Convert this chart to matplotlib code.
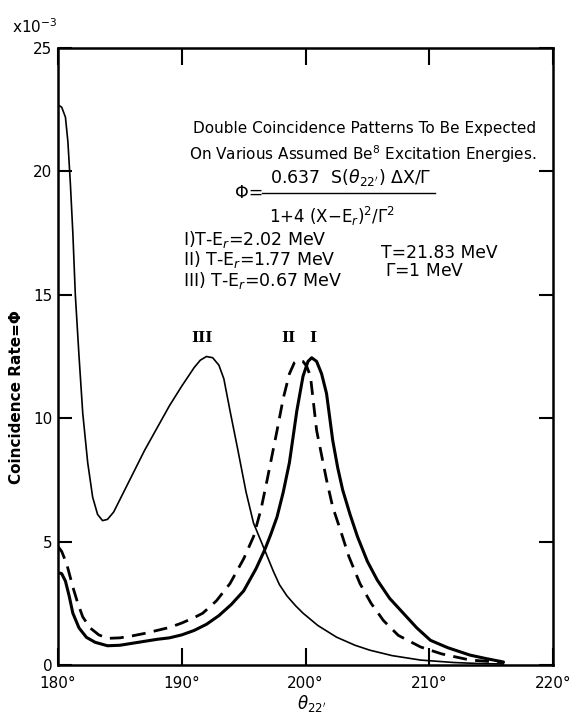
import numpy as np
import matplotlib
matplotlib.use("Agg")
import matplotlib.pyplot as plt
from matplotlib.lines import Line2D

# ---- data ----
x_I = [180, 180.3, 180.6, 180.9, 181.2, 181.7, 182.3, 183, 184, 185, 186, 187, 188, 189, 190, 191, 192,
       193, 194, 195, 196, 196.7, 197.2, 197.7, 198.2, 198.7, 199.3, 199.8, 200.2, 200.5, 200.9, 201.3,
       201.7, 202.2, 202.6, 203.0, 203.6, 204.2, 205, 205.8, 206.8, 207.9, 209, 210.1, 211.5, 213.3, 214.5, 216]
y_I = [3.75, 3.7, 3.4, 2.8, 2.1, 1.5, 1.12, 0.92, 0.78, 0.8, 0.88, 0.96, 1.04, 1.1, 1.22, 1.4, 1.65,
       2.0, 2.45, 3.0, 3.9, 4.66, 5.3, 6.0, 7.0, 8.2, 10.3, 11.7, 12.3, 12.45, 12.3, 11.8,
       11.0, 9.1, 8.0, 7.1, 6.1, 5.2, 4.2, 3.44, 2.7, 2.1, 1.5, 1.0, 0.7, 0.4, 0.27, 0.12]

x_II = [180, 180.3, 180.7, 181.2, 181.6, 182.0, 182.6, 183.3, 184, 185, 186, 187, 188, 189, 190, 191,
        191.7, 192.8, 193.9, 195, 195.8, 196.4, 196.9, 197.3, 197.7, 198.2, 198.7, 199.1, 199.4, 199.8,
        200.1, 200.4, 200.9, 201.3, 201.7, 202.2, 202.8, 203.5, 204.4, 205.3, 206.3, 207.5, 209.3, 211,
        213.3, 216]
y_II = [4.8, 4.6, 4.1, 3.16, 2.5, 1.95, 1.5, 1.22, 1.08, 1.1, 1.18, 1.28, 1.4, 1.52, 1.7, 1.92,
        2.1, 2.6, 3.3, 4.3, 5.2, 6.3, 7.5, 8.5, 9.5, 10.8, 11.8, 12.25, 12.35, 12.3,
        12.1, 11.7, 9.5, 8.5, 7.5, 6.4, 5.5, 4.4, 3.3, 2.5, 1.8, 1.2, 0.73, 0.45,
        0.2, 0.1]

x_III = [180, 180.3, 180.6, 180.8, 181.0, 181.2, 181.4, 181.7, 182.0, 182.4, 182.8, 183.2, 183.6, 184.0,
         184.5, 185, 186, 187, 188, 189, 190, 191, 191.5, 192.0, 192.5, 193.0, 193.4, 193.9, 194.5,
         195.2, 195.8, 196.7, 197.4, 197.9, 198.5, 199.2, 199.8, 201, 202.5, 204, 205.2, 207, 209.3,
         212, 214, 216]
y_III = [22.7, 22.6, 22.2, 21.2, 19.5, 17.5, 15.0, 12.5, 10.2, 8.2, 6.8, 6.1, 5.85, 5.9,
         6.2, 6.7, 7.7, 8.7, 9.6, 10.5, 11.3, 12.05, 12.35, 12.5, 12.45, 12.15, 11.6, 10.3, 8.8,
         7.0, 5.75, 4.66, 3.8, 3.25, 2.8, 2.4, 2.1, 1.6, 1.13, 0.8, 0.6, 0.38, 0.2,
         0.1, 0.06, 0.04]

x_ticks = [180, 190, 200, 210, 220]
x_ticklabels = ["180°", "190°", "200°", "210°", "220°"]
y_ticks = [0, 5, 10, 15, 20, 25]
y_ticklabels = ["0", "5", "10", "15", "20", "25"]

# ---- figure ----
W, H = 580, 715
fig = plt.figure(figsize=(W / 100, H / 100), dpi=100)
plt.rcParams['font.family'] = ['DejaVu Sans']


def px(x, y):
    return x / W, 1 - y / H


ax = fig.add_axes([58 / W, 50 / H, (553 - 58) / W, (665 - 48) / H])
ax.set_xlim(180, 220)
ax.set_ylim(0, 25)

ax.plot(x_I, y_I, color="black", lw=2.2, solid_capstyle="round")
ax.plot(x_II, y_II, color="black", lw=2.0, dashes=(5, 3))
ax.plot(x_III, y_III, color="black", lw=1.2)

for s in ax.spines.values():
    s.set_linewidth(1.8)

ax.set_xticks(x_ticks)
ax.set_xticklabels(x_ticklabels, fontsize=11)
ax.set_yticks(y_ticks)
ax.set_yticklabels(y_ticklabels, fontsize=11)
ax.tick_params(axis="x", direction="in", length=12, width=1.5, top=True, pad=8)
ax.tick_params(axis="y", direction="in", length=10, width=1.5, right=True, pad=4)

# axis labels
fig.text(*px(312, 704), r"$\theta_{22'}$", fontsize=12, ha="center", va="center")
fig.text(*px(17, 397), "Coincidence Rate=Φ", fontsize=11, fontweight="bold", rotation=90,
         ha="center", va="center")
fig.text(*px(12, 27), r"x10$^{-3}$", fontsize=11, ha="left", va="center")

# annotation block
fig.text(*px(365, 129), "Double Coincidence Patterns To Be Expected", fontsize=11,
         ha="center", va="center")
fig.text(*px(363, 154), r"On Various Assumed Be$^8$ Excitation Energies.", fontsize=11,
         ha="center", va="center")
fig.text(*px(235, 193), "Φ=", fontsize=12.5, ha="left", va="center")
fig.text(*px(351, 178), r"0.637  S($\theta_{22'}$) $\Delta$X/$\Gamma$", fontsize=12.5,
         ha="center", va="center")
fig.add_artist(Line2D([262 / W, 435 / W], [1 - 193 / H, 1 - 193 / H],
                      color="black", lw=1.0, transform=fig.transFigure))
fig.text(*px(332, 216), r"1+4 (X$-$E$_r$)$^2$/$\Gamma^2$", fontsize=12,
         ha="center", va="center")

fig.text(*px(183, 240), r"I)T-E$_r$=2.02 MeV", fontsize=12.5, ha="left", va="center")
fig.text(*px(183, 260), r"II) T-E$_r$=1.77 MeV", fontsize=12.5, ha="left", va="center")
fig.text(*px(183, 280), r"III) T-E$_r$=0.67 MeV", fontsize=12.5, ha="left", va="center")
fig.text(*px(381, 253), "T=21.83 MeV", fontsize=12.3, ha="left", va="center")
fig.text(*px(385, 271), r"$\Gamma$=1 MeV", fontsize=12.3, ha="left", va="center")

# curve labels
ax.text(191.6, 12.95, "III", fontsize=11, ha="center", va="bottom",
        family="DejaVu Serif", fontweight="bold")
ax.text(198.6, 12.95, "II", fontsize=11, ha="center", va="bottom",
        family="DejaVu Serif", fontweight="bold")
ax.text(200.6, 12.95, "I", fontsize=11, ha="center", va="bottom",
        family="DejaVu Serif", fontweight="bold")

fig.savefig("out.png", dpi=100)
